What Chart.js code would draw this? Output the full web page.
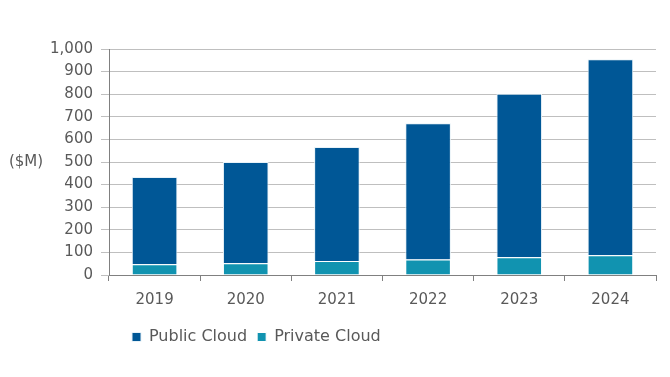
<!DOCTYPE html>
<html>
<head>
<meta charset="utf-8">
<script src="https://cdn.jsdelivr.net/npm/chart.js@4/dist/chart.umd.min.js"></script>
<style>
html,body{margin:0;padding:0;background:#fff;}
#wrap{width:670px;height:377px;position:relative;}
</style>
</head>
<body>
<div id="wrap"><canvas id="c" width="670" height="377"></canvas></div>
<script>
const years = ['2019', '2020', '2021', '2022', '2023', '2024'];
const privateCloud = [48, 52, 62, 69, 78, 87];
const publicCloud = [386, 448, 504, 602, 724, 868];
const yAxisTitle = '($M)';
const seriesNames = ['Public Cloud', 'Private Cloud'];

const TEXT = '#595959';
const FONT = 'DejaVu Sans';

const yTitlePlugin = {
  id: 'yTitle',
  afterDraw(chart) {
    const ctx = chart.ctx;
    const y = chart.scales.y.getPixelForValue(500);
    ctx.save();
    ctx.font = '15px "' + FONT + '"';
    ctx.fillStyle = TEXT;
    ctx.textAlign = 'center';
    ctx.textBaseline = 'middle';
    ctx.fillText(yAxisTitle, 26, y);
    ctx.restore();
  }
};

const legendShift = {
  id: 'legendShift',
  afterLayout(chart) {
    const lg = chart.legend;
    if (lg) {
      const w = lg.right - lg.left;
      lg.left = 122;
      lg.right = 122 + w;
    }
  }
};

new Chart(document.getElementById('c'), {
  type: 'bar',
  data: {
    labels: years,
    datasets: [
      {
        label: seriesNames[1],
        data: privateCloud,
        backgroundColor: '#1193b0',
        borderColor: '#ffffff',
        borderWidth: 1,
        borderSkipped: 'bottom'
      },
      {
        label: seriesNames[0],
        data: publicCloud,
        backgroundColor: '#005796',
        borderColor: '#e8f2f8',
        borderWidth: 1,
        borderSkipped: 'bottom'
      }
    ]
  },
  plugins: [yTitlePlugin, legendShift],
  options: {
    responsive: false,
    animation: false,
    layout: { padding: { left: 0, right: 14, top: 49, bottom: 22 } },
    datasets: { bar: { categoryPercentage: 1, barPercentage: 0.5 } },
    scales: {
      x: {
        stacked: true,
        afterFit(s) { s.height = 44; },
        grid: { display: true, drawOnChartArea: false, offset: true, tickLength: 6, color: '#808080' },
        border: { display: true, color: '#808080' },
        ticks: { color: TEXT, font: { family: FONT, size: 15 }, padding: 10 }
      },
      y: {
        stacked: true,
        min: 0,
        max: 1000,
        afterFit(s) { s.width = 109; },
        grid: { color: '#bfbfbf', tickLength: 8 },
        border: { display: true, color: '#808080' },
        ticks: { stepSize: 100, color: TEXT, font: { family: FONT, size: 15 }, padding: 8 }
      }
    },
    plugins: {
      tooltip: { enabled: false },
      legend: {
        position: 'bottom',
        align: 'start',
        reverse: true,
        labels: {
          boxWidth: 9,
          boxHeight: 9,
          padding: 10,
          color: TEXT,
          font: { family: FONT, size: 16 }
        }
      }
    }
  }
});
</script>
</body>
</html>
